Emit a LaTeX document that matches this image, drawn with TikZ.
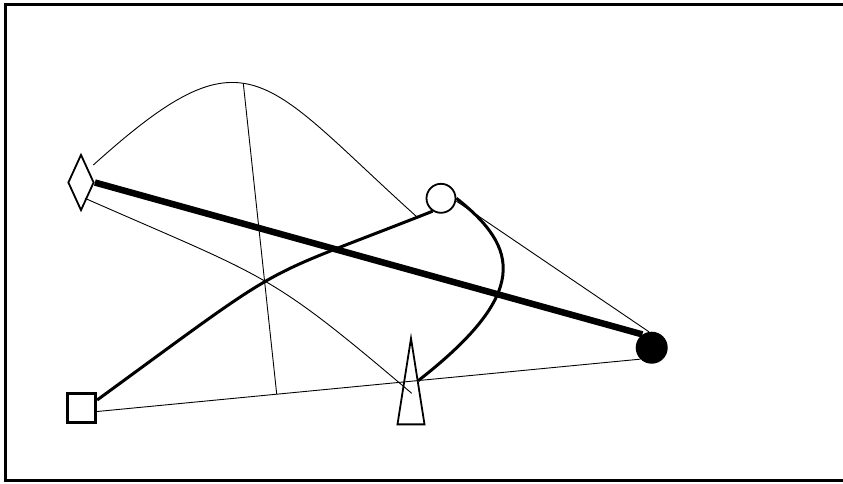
\documentclass[tikz,border=0pt]{standalone}
\usetikzlibrary{shapes.geometric}
\begin{document}
\begin{tikzpicture}[x=1pt,y=-1pt,
    thin line/.style={line width=0.9pt},
    mid line/.style={line width=3pt},
    heavy line/.style={line width=6.5pt},
    shape line/.style={draw,line width=1.8pt,inner sep=0pt}]
    \useasboundingbox (0,0) rectangle (843,483);
    \draw[line width=3pt] (5.3,4) rectangle (848,480.7);
    \node[shape line,diamond,minimum width=26pt,minimum height=56pt] (dia) at (81,182.5) {};
    \node[shape line,circle,minimum size=29pt] (circ) at (441,198.3) {};
    \node[fill,circle,minimum size=32pt,inner sep=0pt] (blk) at (651.7,347.7) {};
    \node[shape line,line width=3pt,rectangle,minimum size=28.3pt] (sq) at (81.5,408) {};
    \node[shape line,isosceles triangle,isosceles triangle stretches,shape border rotate=90,
        minimum width=27pt,minimum height=86pt,anchor=apex] (tri) at (411,336) {};
    \coordinate (bellstart) at (93.3,165);
    \coordinate (bellend) at (416.7,216.7);
    \coordinate (top) at (243.3,83.3);
    \coordinate (foot) at (276.7,394);
    \coordinate (lowstart) at (85,198.3);
    \coordinate (lowend) at (411.7,393.3);
    \draw[thin line] (bellstart) .. controls (248.6,25) and (261.4,77) .. (bellend);
    \draw[thin line] (top) -- (foot);
    \draw[thin line] (lowstart) .. controls (268.6,279.1) and (267.1,270.4) .. (lowend);
    \draw[thin line] ([yshift=-3.5pt]sq.east) -- (blk.225);
    \draw[thin line] (circ.-10) -- (blk.100);
    \draw[heavy line] (dia.east) -- (blk.125);
    \draw[mid line] ([yshift=8pt]sq.east) .. controls (296.7,254.3) and (250,283.4) .. (circ.237);
    \draw[mid line] (circ.east) .. controls (519.5,247.9) and (529.7,293.6) .. (tri.right side);
\end{tikzpicture}
\end{document}
